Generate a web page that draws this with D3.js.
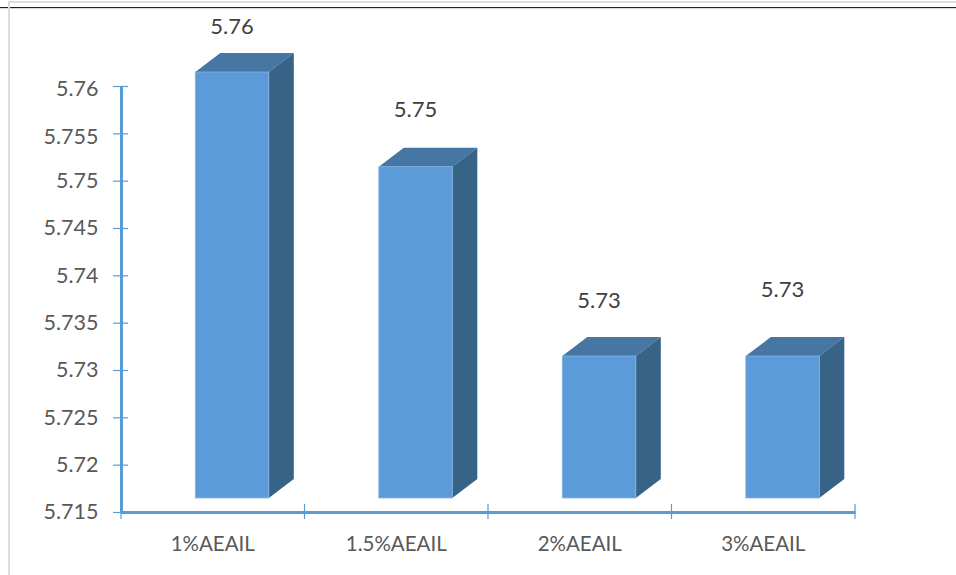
<!DOCTYPE html>
<html lang="en">
  <head>
    <meta charset="utf-8">
    <title>AEAIL bars</title>
    <script src="https://d3js.org/d3.v7.min.js"></script>
    <style type="text/css">
        html, body {
          margin: 0;
          padding: 0;
          background: #fff;
        }

        svg {
          display: block;
        }

        text {
          font-family: Lato, "Open Sans", sans-serif;
          fill: #595959;
        }

        .axis path {
          stroke: #5b9bd5;
          stroke-width: 3px;
        }

        .axis line {
          stroke: #5b9bd5;
          stroke-width: 1.2px;
        }

        .value-label {
          fill: #404040;
        }
    </style>
  </head>
  <body>
    <div id="chart"></div>

    <script>
        var categories = ["1%AEAIL", "1.5%AEAIL", "2%AEAIL", "3%AEAIL"];
        var values = [5.76, 5.75, 5.73, 5.73];
        var valueTicks = [5.715, 5.72, 5.725, 5.73, 5.735, 5.74, 5.745, 5.75, 5.755, 5.76];

        var width = 956;
        var height = 575;

        // plot box: y axis at the left, x axis at the bottom
        var margin = {top: 86, right: 101, bottom: 63, left: 121};
        var plotRight = width - margin.right;
        var plotBottom = height - margin.bottom;

        // the 3d look: floor sits above the axis, depth goes up and right
        var floorLift = 14;
        var depthX = 25;
        var depthY = 19;
        var barWidth = 73.5;
        var barShift = 19.3;

        // labels were placed by hand in the original, one offset per bar
        var labelGap = [46, 57, 56, 67];

        var svg = d3.select("#chart").append("svg")
            .attr("width", width)
            .attr("height", height);

        // frame left over from the screenshot
        svg.append("line").attr("x1", 8).attr("x2", width).attr("y1", 2).attr("y2", 2)
            .attr("stroke", "#dcdcdc").attr("stroke-width", 2);
        svg.append("line").attr("x1", 0).attr("x2", width).attr("y1", 7.5).attr("y2", 7.5)
            .attr("stroke", "#222").attr("stroke-width", 1);
        svg.append("line").attr("x1", 0).attr("x2", width).attr("y1", 8.5).attr("y2", 8.5)
            .attr("stroke", "#d9d9d9").attr("stroke-width", 1);
        svg.append("line").attr("x1", 9).attr("x2", 9).attr("y1", 2).attr("y2", height)
            .attr("stroke", "#dcdcdc").attr("stroke-width", 2);

        var x = d3.scaleBand()
            .domain(categories)
            .range([margin.left, plotRight]);

        var y = d3.scaleLinear()
            .domain([5.715, 5.76])
            .range([plotBottom, margin.top]);

        var bars = svg.append("g")
            .selectAll("g")
            .data(values)
            .enter().append("g");

        function barLeft(d, i) {
            return x(categories[i]) + x.bandwidth() / 2 + barShift - barWidth / 2;
        }

        function barTop(d) {
            return y(d) - floorLift;
        }

        var floor = plotBottom - floorLift;

        // top face
        bars.append("path")
            .attr("fill", "#4676a3")
            .attr("d", function(d, i) {
                var a = barLeft(d, i), t = barTop(d);
                return "M" + a + "," + t +
                    "L" + (a + depthX) + "," + (t - depthY) +
                    "L" + (a + barWidth + depthX) + "," + (t - depthY) +
                    "L" + (a + barWidth) + "," + t + "Z";
            });

        // side face
        bars.append("path")
            .attr("fill", "#376387")
            .attr("d", function(d, i) {
                var a = barLeft(d, i) + barWidth, t = barTop(d);
                return "M" + a + "," + t +
                    "L" + (a + depthX) + "," + (t - depthY) +
                    "L" + (a + depthX) + "," + (floor - depthY) +
                    "L" + a + "," + floor + "Z";
            });

        // front face
        bars.append("rect")
            .attr("x", barLeft)
            .attr("y", barTop)
            .attr("width", barWidth)
            .attr("height", function(d) { return floor - barTop(d); })
            .attr("fill", "#5b9bd9")
            .attr("stroke", "#84b4e2")
            .attr("stroke-width", 0.8);

        bars.append("text")
            .attr("class", "value-label")
            .attr("x", function(d, i) { return barLeft(d, i) + barWidth / 2; })
            .attr("y", function(d, i) { return barTop(d) - labelGap[i]; })
            .attr("dy", "0.35em")
            .attr("text-anchor", "middle")
            .style("font-size", "22px")
            .text(function(d) { return d3.format(".2f")(d); });

        var yAxis = d3.axisLeft(y)
            .tickValues(valueTicks)
            .tickFormat(function(d) { return String(d); })
            .tickSize(0);

        var yG = svg.append("g")
            .attr("class", "axis")
            .attr("transform", "translate(" + margin.left + ",0)")
            .call(yAxis);

        yG.selectAll(".tick line")
            .attr("x1", -8)
            .attr("x2", 7);

        // the top two labels sit a little under their ticks in the original
        yG.selectAll(".tick text")
            .attr("x", -22.5)
            .attr("y", function(d) { return d >= 5.755 ? 3 : 0; })
            .style("font-size", "21.5px");

        var xAxis = d3.axisBottom(x)
            .tickSize(0);

        var xG = svg.append("g")
            .attr("class", "axis")
            .attr("transform", "translate(0," + plotBottom + ")")
            .call(xAxis);

        xG.selectAll(".tick line").remove();

        xG.selectAll(".tick text")
            .attr("y", 32)
            .attr("dy", "0.35em")
            .style("font-size", "20.5px");

        // x ticks fall between the bands, so they go on by hand
        var edges = categories.map(function(c) { return x(c); }).concat([plotRight]);

        xG.selectAll(".edge")
            .data(edges)
            .enter().append("line")
            .attr("class", "edge")
            .attr("x1", function(d) { return d; })
            .attr("x2", function(d) { return d; })
            .attr("y1", -8)
            .attr("y2", 7);
    </script>
  </body>
</html>
